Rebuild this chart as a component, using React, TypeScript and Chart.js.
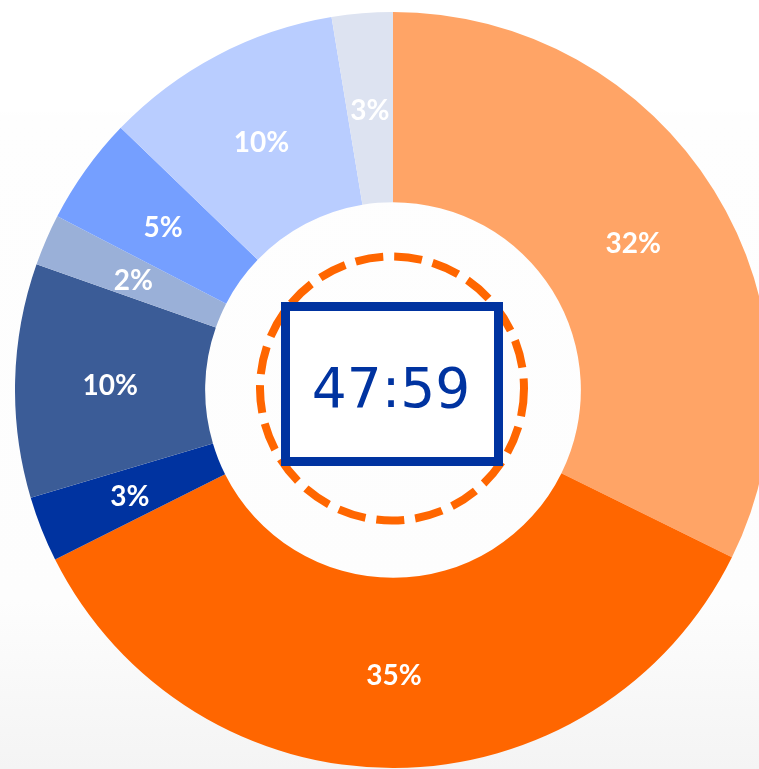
import React, { useEffect, useRef } from "react";
import { Chart, registerables } from "chart.js";

Chart.register(...registerables);

const categories = ["A", "B", "C", "D", "E", "F", "G", "H"];
const values = [32.3, 35.3, 2.8, 10.0, 2.2, 4.6, 10.2, 2.6];
const sliceLabels = ["32%", "35%", "3%", "10%", "2%", "5%", "10%", "3%"];
const sliceColors = [
  "#FFA466",
  "#FF6600",
  "#0033A0",
  "#3B5C97",
  "#9AB0D8",
  "#759FFF",
  "#B9CDFF",
  "#DDE3F1",
];
const centerText = "47:59";

const overlayPlugin = {
  id: "overlay",
  afterDatasetsDraw(chart: any) {
    const ctx = chart.ctx as CanvasRenderingContext2D;
    const meta = chart.getDatasetMeta(0);
    ctx.save();
    // slice labels
    ctx.font = "bold 28px Lato";
    ctx.fillStyle = "#ffffff";
    ctx.textAlign = "center";
    ctx.textBaseline = "alphabetic";
    meta.data.forEach((arc: any, i: number) => {
      const p = arc.getCenterPoint();
      ctx.fillText(sliceLabels[i], p.x, p.y + 12);
    });
    const cx = meta.data[0].x;
    const cy = meta.data[0].y;
    // dashed circle
    ctx.beginPath();
    ctx.setLineDash([28, 11]);
    ctx.lineWidth = 8;
    ctx.strokeStyle = "#FF6600";
    ctx.arc(cx - 1, cy - 1.5, 132, 0, Math.PI * 2);
    ctx.stroke();
    ctx.setLineDash([]);
    // rectangle
    ctx.fillStyle = "#ffffff";
    ctx.fillRect(cx - 107.5, cy - 83.5, 213, 155);
    ctx.lineWidth = 9;
    ctx.strokeStyle = "#0033A0";
    ctx.strokeRect(cx - 107.5, cy - 83.5, 213, 155);
    // text
    ctx.font = "55px 'DejaVu Sans'";
    ctx.fillStyle = "#0033A0";
    ctx.textAlign = "center";
    ctx.textBaseline = "alphabetic";
    ctx.fillText(centerText, cx - 2, cy + 16.5);
    ctx.restore();
  },
};

export default function App() {
  const ref = useRef<HTMLCanvasElement | null>(null);
  useEffect(() => {
    if (!ref.current) return;
    const chart = new Chart(ref.current, {
      type: "doughnut",
      data: {
        labels: categories,
        datasets: [
          {
            data: values,
            backgroundColor: sliceColors,
            borderWidth: 0,
          },
        ],
      },
      options: {
        responsive: false,
        maintainAspectRatio: false,
        animation: false,
        cutout: "49.7%",
        layout: { padding: 0 },
        plugins: {
          legend: { display: false },
          tooltip: { enabled: false },
        },
      },
      plugins: [overlayPlugin],
    });
    return () => chart.destroy();
  }, []);
  return (
    <div
      style={{
        position: "fixed",
        left: 0,
        top: 0,
        width: 759,
        height: 769,
        overflow: "hidden",
        background:
          "linear-gradient(to bottom, #ffffff 0px, #ffffff 110px, #fefefe 116px, #fdfdfd 600px, #f4f4f4 769px)",
      }}
    >
      <canvas
        ref={ref}
        width={756}
        height={756}
        style={{ position: "absolute", left: 15, top: 12, width: 756, height: 756 }}
      />
    </div>
  );
}
